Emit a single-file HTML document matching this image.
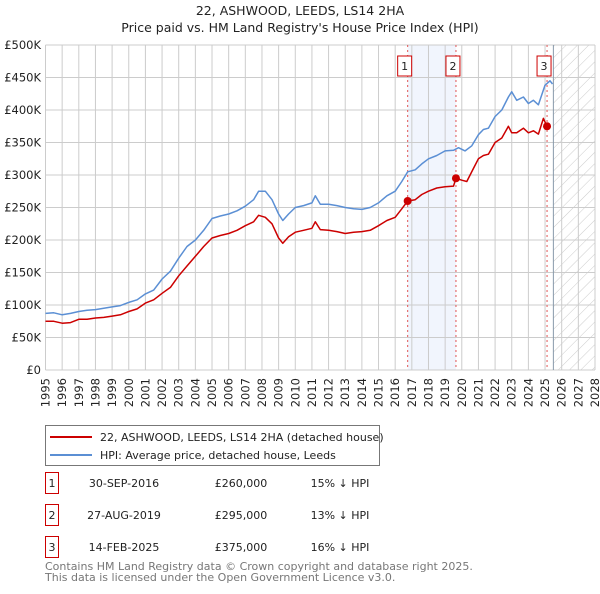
<!DOCTYPE html>
<html><head><meta charset="utf-8"><style>
body{margin:0;background:#fff;font-family:"DejaVu Sans","Liberation Sans",sans-serif;}
svg text{font-family:"DejaVu Sans","Liberation Sans",sans-serif;}
</style></head><body>
<svg id="chart" width="600" height="590" viewBox="0 0 600 590">
<defs>
<pattern id="hatch" width="8" height="8" patternUnits="userSpaceOnUse" patternTransform="rotate(45)">
<line x1="0" y1="0" x2="0" y2="8" stroke="#ccc" stroke-width="1"/>
</pattern>
</defs>
<text x="300" y="15" text-anchor="middle" font-size="12.5" fill="#222">22, ASHWOOD, LEEDS, LS14 2HA</text>
<text x="300" y="32" text-anchor="middle" font-size="12.5" fill="#222">Price paid vs. HM Land Registry's House Price Index (HPI)</text>
<g id="plot"></g>
<g id="legend">
<rect x="45.5" y="425.5" width="334" height="40" fill="#fff" stroke="#777"/>
<line x1="50" y1="437" x2="92" y2="437" stroke="#cc0000" stroke-width="2"/>
<text x="100" y="441" font-size="11" fill="#222">22, ASHWOOD, LEEDS, LS14 2HA (detached house)</text>
<line x1="50" y1="455" x2="92" y2="455" stroke="#5b8fd4" stroke-width="2"/>
<text x="100" y="459" font-size="11" fill="#222">HPI: Average price, detached house, Leeds</text>
</g>
<g id="table" font-size="11" fill="#222"></g>
<text x="45" y="570" font-size="11" fill="#777">Contains HM Land Registry data © Crown copyright and database right 2025.</text>
<text x="45" y="581" font-size="11" fill="#777">This data is licensed under the Open Government Licence v3.0.</text>
</svg>
<script>
const years=[1995,1996,1997,1998,1999,2000,2001,2002,2003,2004,2005,2006,2007,2008,2009,2010,2011,2012,2013,2014,2015,2016,2017,2018,2019,2020,2021,2022,2023,2024,2025,2026,2027,2028];
const yTicks=[0,50000,100000,150000,200000,250000,300000,350000,400000,450000,500000];
const yTickLabels=["£0","£50K","£100K","£150K","£200K","£250K","£300K","£350K","£400K","£450K","£500K"];
const hpiT=[1995,1995.5,1996,1996.5,1997,1997.5,1998,1998.5,1999,1999.5,2000,2000.5,2001,2001.5,2002,2002.5,2003,2003.5,2004,2004.5,2005,2005.5,2006,2006.5,2007,2007.5,2007.8,2008.2,2008.6,2009,2009.25,2009.6,2010,2010.5,2011,2011.2,2011.5,2012,2012.5,2013,2013.5,2014,2014.5,2015,2015.5,2016,2016.4,2016.75,2017.2,2017.6,2018,2018.5,2019,2019.5,2019.8,2020.2,2020.6,2021,2021.3,2021.6,2022,2022.4,2022.8,2023,2023.3,2023.7,2024,2024.3,2024.6,2025,2025.3,2025.45];
const hpiV=[87,88,85,87,90,92,93,95,97,99,104,108,117,123,140,152,172,190,200,215,233,237,240,245,252,262,275,275,262,240,230,240,250,253,257,268,255,255,253,250,248,247,250,257,268,275,290,305,308,317,325,330,337,338,342,337,345,362,370,372,390,400,420,428,415,420,410,415,408,438,445,440].map(v=>v*1000);
const priceT=[1995,1995.5,1996,1996.5,1997,1997.5,1998,1998.5,1999,1999.5,2000,2000.5,2001,2001.5,2002,2002.5,2003,2003.5,2004,2004.5,2005,2005.5,2006,2006.5,2007,2007.5,2007.8,2008.2,2008.6,2009,2009.25,2009.6,2010,2010.5,2011,2011.2,2011.5,2012,2012.5,2013,2013.5,2014,2014.5,2015,2015.5,2016,2016.4,2016.75,2017.2,2017.6,2018,2018.5,2019,2019.5,2019.65,2020.0,2020.3,2020.7,2021,2021.3,2021.6,2022,2022.4,2022.8,2023,2023.3,2023.7,2024,2024.3,2024.6,2024.9,2025.12];
const priceV=[75,75,72,73,78,78,80,81,83,85,90,94,103,108,118,127,145,160,175,190,203,207,210,215,222,228,238,235,225,203,195,205,212,215,218,228,216,215,213,210,212,213,215,222,230,235,248,260,262,270,275,280,282,283,295,292,290,310,325,330,332,350,357,375,365,365,372,365,368,363,387,375].map(v=>v*1000);
const saleT=[2016.75,2019.65,2025.12];
const saleV=[260000,295000,375000];
const saleLabels=["1","2","3"];
const saleDates=["30-SEP-2016","27-AUG-2019","14-FEB-2025"];
const salePrices=["£260,000","£295,000","£375,000"];
const salePct=["15% ↓ HPI","13% ↓ HPI","16% ↓ HPI"];
const forecastStart=2025.5;

const X0=45.5,X1=595,Y0=370,Y1=45;
const xs=t=>X0+(t-1995)/(2028-1995)*(X1-X0);
const ys=v=>Y0-v/500000*(Y0-Y1);
const NS="http://www.w3.org/2000/svg";
const plot=document.getElementById('plot');
function mk(tag,attrs,parent){const e=document.createElementNS(NS,tag);for(const k in attrs)e.setAttribute(k,attrs[k]);(parent||plot).appendChild(e);return e;}

let r=mk('rect',{x:xs(saleT[0]),y:Y1,width:xs(saleT[1])-xs(saleT[0]),height:Y0-Y1,fill:'#eef3fc',opacity:0.8});


r=mk('rect',{x:xs(forecastStart),y:Y1,width:X1-xs(forecastStart),height:Y0-Y1,fill:'url(#hatch)'});


years.forEach(y=>{
  const l=mk('line',{x1:xs(y),x2:xs(y),y1:Y1,y2:Y0,stroke:'#cccccc','stroke-width':1});
  
  
  const x=xs(y)+4;
  const t=mk('text',{x:x,y:378,'font-size':11.5,fill:'#222','text-anchor':'end',transform:`rotate(-90 ${x} 378)`});
  t.textContent=y;
  
  
});
yTicks.forEach((v,i)=>{
  const l=mk('line',{x1:X0,x2:X1,y1:ys(v),y2:ys(v),stroke:'#cccccc','stroke-width':1});
  
  
  const t=mk('text',{x:41,y:ys(v)+4,'font-size':11.5,fill:'#222','text-anchor':'end'});
  t.textContent=yTickLabels[i];
  
  
});
let fl=mk('line',{x1:xs(forecastStart),x2:xs(forecastStart),y1:Y1,y2:Y0,stroke:'#8899aa','stroke-width':1});


saleT.forEach((t,i)=>{
  const l=mk('line',{x1:xs(t),x2:xs(t),y1:Y1,y2:Y0,stroke:'#e05555','stroke-width':1,'stroke-dasharray':'2,3'});
  
  
  const b=mk('rect',{x:xs(t)-10,y:56,width:14,height:20,fill:'#fff',stroke:'#cc0000','stroke-width':1});
  
  
  const tx=mk('text',{x:xs(t)-3,y:70,'font-size':11,fill:'#222','text-anchor':'middle'});
  tx.textContent=saleLabels[i];
  
  
});
function path(T,V){return T.map((t,i)=>(i?'L':'M')+xs(t).toFixed(1)+','+ys(V[i]).toFixed(1)).join('');}
let p=mk('path',{d:path(hpiT,hpiV),fill:'none',stroke:'#5b8fd4','stroke-width':1.5,'stroke-linejoin':'round'});


p=mk('path',{d:path(priceT,priceV),fill:'none',stroke:'#cc0000','stroke-width':1.5,'stroke-linejoin':'round'});


saleT.forEach((t,i)=>{
  const c=mk('circle',{cx:xs(t),cy:ys(saleV[i]),r:4,fill:'#cc0000'});
  
  
});
const tb=document.getElementById('table');
saleT.forEach((t,i)=>{
  const y=483+i*32;
  const b=mk('rect',{x:45.5,y:y-10.5,width:13,height:21,fill:'#fff',stroke:'#cc0000'},tb);
  
  
  const cells=[[52,saleLabels[i],'middle','table-marker-label'],[124,saleDates[i],'middle','table-date'],[241,salePrices[i],'middle','table-price'],[340,salePct[i],'middle','table-hpi-diff']];
  cells.forEach(c=>{
    const tx=mk('text',{x:c[0],y:y+4,'text-anchor':c[2],'font-size':11,fill:'#222'},tb);
    tx.textContent=c[1];
    
    
  });
});
</script>
</body></html>
